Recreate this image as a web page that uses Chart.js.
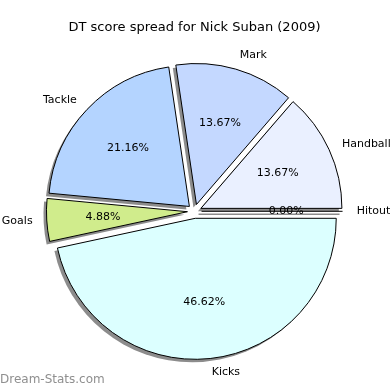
<!DOCTYPE html>
<html>
<head>
<meta charset="utf-8">
<script src="https://cdn.jsdelivr.net/npm/chart.js@4.4.1/dist/chart.umd.min.js"></script>
<style>
  html, body { margin: 0; padding: 0; background: #fff; }
  #wrap { position: relative; width: 390px; height: 390px; }
</style>
</head>
<body>
<div id="wrap"><canvas id="pie_chart" width="390" height="390"></canvas></div>
<script>
// slices listed clockwise from 3 o'clock (matplotlib goes counter-clockwise)
const labels = ['Hitout', 'Kicks', 'Goals', 'Tackle', 'Mark', 'Handball'];
const shares = [0.00, 46.62, 4.88, 21.16, 13.67, 13.67];
const colours = ['#ffffff', '#dcffff', '#d0ec8c', '#b4d4ff', '#c4d8ff', '#eaf0ff'];

const explode = 0.05;   // fraction of radius, like matplotlib
const labelFont = '11px "DejaVu Sans"';

function shiftOf(arc) {
    const mid = (arc.startAngle + arc.endAngle) / 2;
    const d = arc.outerRadius * explode;
    return [Math.cos(mid) * d, Math.sin(mid) * d];
}

// draw shadows, then the exploded wedges, then the texts
const pieExtras = {
    id: 'pieExtras',
    beforeDatasetDraw(chart, args) {
        const ctx = chart.ctx;
        const arcs = args.meta.data;
        // shadows first, all behind the wedges
        arcs.forEach(arc => {
            const [dx, dy] = shiftOf(arc);
            ctx.save();
            ctx.translate(dx - 3, dy + 3);
            ctx.fillStyle = '#8c8c8c';
            ctx.strokeStyle = '#8c8c8c';
            ctx.lineWidth = 1.5;
            ctx.beginPath();
            if (arc.endAngle - arc.startAngle > 0) {
                ctx.moveTo(arc.x, arc.y);
                ctx.arc(arc.x, arc.y, arc.outerRadius, arc.startAngle, arc.endAngle);
                ctx.closePath();
                ctx.fill();
            } else {
                ctx.moveTo(arc.x, arc.y);
                ctx.lineTo(arc.x + Math.cos(arc.startAngle) * arc.outerRadius,
                           arc.y + Math.sin(arc.startAngle) * arc.outerRadius);
                ctx.stroke();
            }
            ctx.restore();
        });
        arcs.forEach(arc => {
            const [dx, dy] = shiftOf(arc);
            ctx.save();
            ctx.translate(dx, dy);
            if (arc.endAngle - arc.startAngle > 0) {
                arc.draw(ctx, chart.chartArea);
            } else {
                // zero wedge: matplotlib still draws its edge
                ctx.strokeStyle = '#000';
                ctx.lineWidth = 1;
                ctx.beginPath();
                ctx.moveTo(arc.x, arc.y);
                ctx.lineTo(arc.x + Math.cos(arc.startAngle) * arc.outerRadius,
                           arc.y + Math.sin(arc.startAngle) * arc.outerRadius);
                ctx.stroke();
            }
            ctx.restore();
        });
        return false;
    },
    afterDatasetsDraw(chart) {
        const ctx = chart.ctx;
        const meta = chart.getDatasetMeta(0);
        ctx.save();
        ctx.font = labelFont;
        ctx.fillStyle = '#000';
        ctx.textBaseline = 'middle';
        meta.data.forEach((arc, i) => {
            const mid = (arc.startAngle + arc.endAngle) / 2;
            const r = arc.outerRadius;
            const cx = arc.x + Math.cos(mid) * r * explode;
            const cy = arc.y + Math.sin(mid) * r * explode;
            const lx = cx + Math.cos(mid) * r * 1.1;
            const ly = cy + Math.sin(mid) * r * 1.1;
            ctx.textAlign = Math.cos(mid) >= 0 ? 'left' : 'right';
            ctx.fillText(labels[i], lx, ly);
            ctx.textAlign = 'center';
            ctx.fillText(shares[i].toFixed(2) + '%', cx + Math.cos(mid) * r * 0.6, cy + Math.sin(mid) * r * 0.6);
        });
        // site watermark
        ctx.font = '12px "DejaVu Sans"';
        ctx.fillStyle = '#8f8f8f';
        ctx.textAlign = 'left';
        ctx.fillText('Dream-Stats.com', 0, 380);
        ctx.restore();
    }
};

const ctx = document.getElementById('pie_chart').getContext('2d');
const myChart = new Chart(ctx, {
    type: 'pie',
    data: {
        labels: labels,
        datasets: [{
            data: shares,
            backgroundColor: colours,
            borderColor: '#000',
            borderWidth: 1,
        }]
    },
    options: {
        responsive: false,
        animation: false,
        rotation: 90,
        radius: 141,
        layout: { padding: { top: 4, bottom: 5, left: 0, right: 1 } },
        plugins: {
            legend: { display: false },
            tooltip: { enabled: false },
            title: {
                display: true,
                text: 'DT score spread for Nick Suban (2009)',
                color: '#000',
                font: { family: 'DejaVu Sans', size: 13, weight: 'normal' },
                padding: { top: 16, bottom: 2 }
            }
        }
    },
    plugins: [pieExtras]
});
</script>
</body>
</html>
